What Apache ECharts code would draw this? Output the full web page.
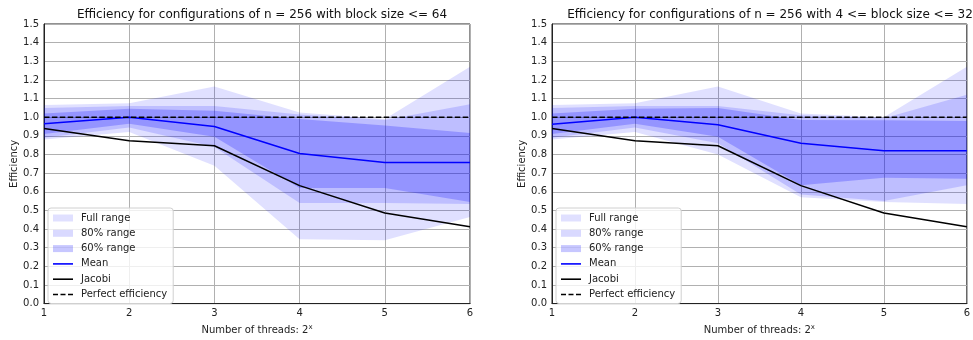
<!DOCTYPE html>
<html>
<head>
<meta charset="utf-8">
<script src="https://cdn.jsdelivr.net/npm/echarts@6/dist/echarts.min.js"></script>
<style>
  html, body { margin: 0; padding: 0; background: #fff; }
  #main { width: 973px; height: 340px; }
</style>
</head>
<body>
<div id="main"></div>
<script>
// threads exponent categories
var threads = ["1", "2", "3", "4", "5", "6"];
var yTicks = [0.0, 0.1, 0.2, 0.3, 0.4, 0.5, 0.6, 0.7, 0.8, 0.9, 1.0, 1.1, 1.2, 1.3, 1.4, 1.5];

// left: block size <= 64
var fullLowA = [0.88, 0.92, 0.74, 0.345, 0.34, 0.465];
var fullHighA = [1.065, 1.075, 1.165, 1.025, 0.99, 1.27];
var p80LowA = [0.89, 0.945, 0.84, 0.54, 0.54, 0.535];
var p80HighA = [1.05, 1.06, 1.06, 1.015, 0.985, 1.07];
var p60LowA = [0.91, 0.965, 0.895, 0.62, 0.62, 0.545];
var p60HighA = [1.02, 1.045, 1.035, 0.99, 0.955, 0.915];
var meanA = [0.965, 1.0, 0.95, 0.805, 0.757, 0.757];
var jacobiA = [0.94, 0.874, 0.847, 0.633, 0.486, 0.412];

// right: 4 <= block size <= 32
var fullLowB = [0.88, 0.92, 0.80, 0.57, 0.545, 0.535];
var fullHighB = [1.065, 1.075, 1.165, 1.02, 1.0, 1.27];
var p80LowB = [0.89, 0.945, 0.86, 0.585, 0.55, 0.635];
var p80HighB = [1.05, 1.06, 1.06, 1.01, 0.995, 1.12];
var p60LowB = [0.91, 0.965, 0.895, 0.635, 0.675, 0.67];
var p60HighB = [1.02, 1.045, 1.05, 0.985, 0.983, 0.98];
var meanB = [0.962, 1.0, 0.96, 0.86, 0.82, 0.82];
var jacobiB = [0.94, 0.874, 0.847, 0.633, 0.486, 0.412];

var perfect = [1, 1, 1, 1, 1, 1];

var titles = [
  "Efficiency for configurations of n = 256 with block size <= 64",
  "Efficiency for configurations of n = 256 with 4 <= block size <= 32"
];

var FONT = "DejaVu Sans";
var bandColors = {
  "Full range": "rgba(0,0,255,0.12)",
  "80% range": "rgba(0,0,255,0.15)",
  "60% range": "rgba(0,0,255,0.22)"
};

function band(name, low, high, idx) {
  var diff = high.map(function (h, i) { return +(h - low[i]).toFixed(4); });
  var stack = name + idx;
  return [
    {
      type: "line", xAxisIndex: idx, yAxisIndex: idx, stack: stack,
      data: low, symbol: "none", silent: true,
      lineStyle: { opacity: 0 }
    },
    {
      name: name, type: "line", xAxisIndex: idx, yAxisIndex: idx, stack: stack,
      data: diff, symbol: "none",
      lineStyle: { opacity: 0 },
      itemStyle: { color: bandColors[name] },
      areaStyle: { color: bandColors[name], opacity: 1 }
    }
  ];
}

function lines(mean, jac, idx) {
  return [
    { name: "Mean", type: "line", xAxisIndex: idx, yAxisIndex: idx, data: mean, symbol: "none",
      itemStyle: { color: "#0000ff" }, lineStyle: { color: "#0000ff", width: 1.5 }, z: 5 },
    { name: "Jacobi", type: "line", xAxisIndex: idx, yAxisIndex: idx, data: jac, symbol: "none",
      itemStyle: { color: "#000" }, lineStyle: { color: "#000", width: 1.5 }, z: 5 },
    { name: "Perfect efficiency", type: "line", xAxisIndex: idx, yAxisIndex: idx, data: perfect, symbol: "none",
      itemStyle: { color: "#000" }, lineStyle: { color: "#000", width: 1.5, type: [5.5, 2.4] }, z: 5 }
  ];
}

var series = []
  .concat(band("Full range", fullLowA, fullHighA, 0))
  .concat(band("80% range", p80LowA, p80HighA, 0))
  .concat(band("60% range", p60LowA, p60HighA, 0))
  .concat(lines(meanA, jacobiA, 0))
  .concat(band("Full range", fullLowB, fullHighB, 1))
  .concat(band("80% range", p80LowB, p80HighB, 1))
  .concat(band("60% range", p60LowB, p60HighB, 1))
  .concat(lines(meanB, jacobiB, 1));

var gridPos = [
  { left: 44, top: 24, width: 426, height: 284 },
  { left: 552, top: 24, width: 426, height: 284 }
];

var solidIcon = "path://M0,0H20V1.6H0Z";
var dashIcon = "path://M0,0H5V1.6H0Z M7.5,0H12.5V1.6H7.5Z M15,0H20V1.6H15Z";

function legendFor(left) {
  return {
    orient: "vertical", left: left, top: 208,
    itemWidth: 20, itemHeight: 7, itemGap: 5.3,
    padding: [5, 6, 4, 5],
    borderColor: "#d0d0d0", borderWidth: 1, borderRadius: 3,
    backgroundColor: "rgba(255,255,255,0.8)",
    selectedMode: false, symbolKeepAspect: true,
    textStyle: { fontFamily: FONT, fontSize: 10, color: "#222", padding: [0, 0, 0, 3] },
    data: [
      { name: "Full range", icon: "rect" },
      { name: "80% range", icon: "rect" },
      { name: "60% range", icon: "rect" },
      { name: "Mean", icon: solidIcon, itemStyle: { color: "#0000ff" } },
      { name: "Jacobi", icon: solidIcon, itemStyle: { color: "#000" } },
      { name: "Perfect efficiency", icon: dashIcon, itemStyle: { color: "#000" } }
    ]
  };
}

var chart = echarts.init(document.getElementById("main"));
chart.setOption({
  backgroundColor: "#fff",
  animation: false,
  textStyle: { fontFamily: FONT },
  title: titles.map(function (t, i) {
    return {
      text: t, left: gridPos[i].left + gridPos[i].width / 2, top: 4, textAlign: "center",
      textStyle: { fontFamily: FONT, fontSize: 12, fontWeight: "normal", color: "#111" }
    };
  }),
  legend: [legendFor(48), legendFor(556)],
  grid: gridPos.map(function (g) {
    return Object.assign({ show: true, borderColor: "#222", borderWidth: 1, containLabel: false }, g);
  }),
  xAxis: [0, 1].map(function (i) {
    return {
      type: "category", gridIndex: i, data: threads, boundaryGap: false,
      name: "Number of threads: 2{sup|x}", nameLocation: "middle", nameGap: 19,
      nameTextStyle: {
        fontFamily: FONT, fontSize: 10, color: "#222",
        rich: { sup: { fontFamily: FONT, fontSize: 7, color: "#222", verticalAlign: "top", padding: [0, 0, 6, 0] } }
      },
      axisLine: { lineStyle: { color: "#222" } },
      axisTick: { show: false },
      axisLabel: { fontFamily: FONT, fontSize: 10, color: "#222", margin: 5 },
      splitLine: { show: true, lineStyle: { color: "#b0b0b0", width: 1 } }
    };
  }),
  yAxis: [0, 1].map(function (i) {
    return {
      type: "value", gridIndex: i, min: yTicks[0], max: yTicks[yTicks.length - 1], interval: 0.1,
      name: "Efficiency", nameLocation: "middle", nameGap: 24,
      nameTextStyle: { fontFamily: FONT, fontSize: 10, color: "#222" },
      axisLine: { show: true, lineStyle: { color: "#222" } },
      axisTick: { show: false },
      axisLabel: { fontFamily: FONT, fontSize: 10, color: "#222", margin: 5,
        formatter: function (v) { return v.toFixed(1); } },
      splitLine: { show: true, lineStyle: { color: "#b0b0b0", width: 1 } }
    };
  }),
  series: series
});
</script>
</body>
</html>
